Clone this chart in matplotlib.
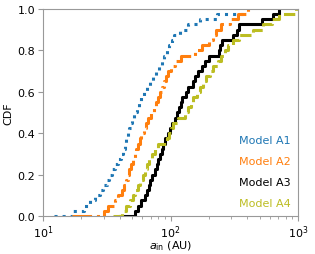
import numpy as np
import matplotlib
matplotlib.use("Agg")
import matplotlib.pyplot as plt

model_a1 = [12.1, 17, 20.8, 23.5, 25.6, 27.8, 29.8, 31.5, 33.2, 35, 37, 39, 40.8,
            42.5, 43.8, 45, 46.2, 47.3, 48.6, 50, 52, 54.5, 56.8, 59, 62, 65.5, 69,
            73, 77.5, 81.5, 85.5, 89, 93, 97.5, 102, 107, 118, 137, 170, 230, 370]
model_a2 = [16.9, 30, 32.6, 36.5, 39, 41.5, 43.5, 45, 46, 47, 49, 51, 52.6, 54,
            55.5, 57.2, 59, 61.5, 64, 66.5, 70, 73.5, 76.5, 80, 83, 85.5, 89, 92.5,
            96, 100, 108, 120, 155, 175, 200, 215, 226, 250, 290, 340, 405]
model_a3 = [40.2, 52.6, 56, 59, 63, 65, 67.5, 69.5, 72, 75, 77.7, 80, 83, 85.5,
            87.6, 91, 95, 99, 103, 108, 113, 117, 120, 124, 131, 138, 149, 156,
            164, 175, 186, 200, 238, 245, 252, 310, 330, 345, 520, 634, 714]
model_a4 = [35.6, 41.4, 45, 48, 50.5, 53, 56, 58, 60.5, 63, 65.5, 68, 71, 75, 80,
            94, 97, 100, 104, 115, 130, 137, 144, 151, 160, 170, 179, 190, 203,
            217, 235, 250, 265, 283, 310, 345, 440, 530, 620, 710, 964]

labels = ["Model A1", "Model A2", "Model A3", "Model A4"]
colours = ["#1f77b4", "#ff7f0e", "black", "#bcbd22"]
styles = [":", "-.", "-", "--"]

fig = plt.figure(figsize=(3.15, 2.55), dpi=100)
ax = fig.add_axes([0.1365, 0.149, 0.81, 0.812])

for data, lab, c, ls in zip([model_a1, model_a2, model_a3, model_a4], labels, colours, styles):
    x = np.sort(data)
    y = np.arange(len(x)) / (len(x) - 1)
    ax.plot(x, y, drawstyle="steps-post", color=c, ls=ls, lw=2.2, label=lab)

ax.set_xscale("log")
ax.set_xlim(10, 1000)
ax.set_ylim(0, 1)
ax.set_xlabel(r"$a_{\rm in}$ (AU)", fontsize=8, labelpad=-1)
ax.set_ylabel("CDF", fontsize=8, labelpad=3)
ax.tick_params(labelsize=8, color="#999999", pad=2)
ax.tick_params(which="minor", color="#999999")
for s in ax.spines.values():
    s.set_color("#999999")

leg = ax.legend(loc="lower right", frameon=False, fontsize=8, handlelength=0,
                handletextpad=0, labelspacing=1.0, borderaxespad=0.3)
for h in leg.legend_handles:
    h.set_visible(False)
for t, c in zip(leg.get_texts(), colours):
    t.set_color(c)

fig.savefig("out.png", dpi=100)
